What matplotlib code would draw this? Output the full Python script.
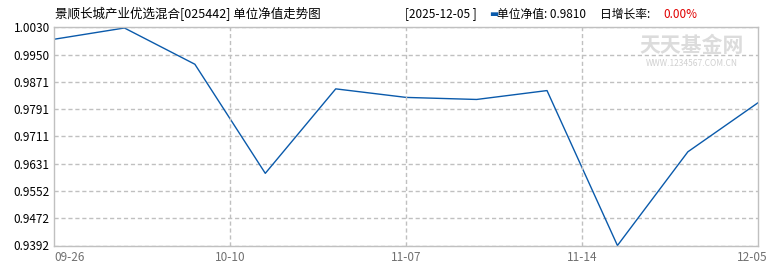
import matplotlib
matplotlib.use("Agg")
import matplotlib.pyplot as plt
import matplotlib.transforms as mtransforms
import numpy as np

plt.rcParams['font.family'] = ['Noto Sans CJK SC', 'DejaVu Sans']

# weekly unit net values, 09-26 .. 12-05
nav = [0.9995, 1.0028, 0.9922, 0.9603, 0.9850, 0.9825, 0.9819, 0.9845, 0.9392, 0.9666, 0.9810]
x_pos = [0, 2.5, 5, 7.5, 10]
x_labels = ['09-26', '10-10', '11-07', '11-14', '12-05']
y_min = 0.9392
y_max = 1.0030
y_labels = ['0.9392', '0.9472', '0.9552', '0.9631', '0.9711', '0.9791', '0.9871', '0.9950', '1.0030']

fig = plt.figure(figsize=(7.7, 2.7), dpi=100)
ax = fig.add_axes([54/770, 24.5/270, 704.3/770, 218.2/270])

x = list(range(len(nav)))
ax.plot(x, nav, color='#0a5aab', linewidth=1.0)

ax.set_xlim(0, len(nav) - 1)
ax.set_ylim(y_min, y_max)
ax.set_yticks(np.linspace(y_min, y_max, len(y_labels)))
ax.set_yticklabels(y_labels)
ax.set_xticks(x_pos)
ax.set_xticklabels(x_labels)

ax.tick_params(axis='y', length=0, pad=3, labelsize=8.5, labelcolor='black')
ax.tick_params(axis='x', length=0, pad=4, labelsize=8.5, labelcolor='#707070')
xl = ax.get_xticklabels()
xl[0].set_ha('left')
xl[-1].set_ha('right')
xl[-1].set_transform(xl[-1].get_transform() + mtransforms.ScaledTranslation(9/100, 0, fig.dpi_scale_trans))

ax.grid(True, axis='y', linestyle=(0, (3, 2)), color='#c0c0c0', linewidth=1)
for xv in x_pos[1:-1]:
    ax.axvline(xv, linestyle=(0, (3, 2)), color='#c0c0c0', linewidth=1)
for s in ax.spines.values():
    s.set_color('#c0c0c0')
    s.set_linewidth(1)

# watermark
fig.text(692/770, 1 - 46/270, '天天基金网', fontsize=15, color='#dcdcdc', ha='center', va='center', fontweight='bold')
fig.text(692/770, 1 - 63/270, 'WWW.1234567.COM.CN', fontsize=6, color='#d0d0d0', ha='center', va='center')

# header
fig.text(55/770, 1 - 14/270, '景顺长城产业优选混合[025442] 单位净值走势图', fontsize=9, color='black', va='center')
fig.text(405/770, 1 - 14/270, '[2025-12-05 ]', fontsize=8.5, color='black', va='center')
fig.text(489/770, 1 - 14/270, '▬', fontsize=7, color='#0a5aab', va='center', family=['DejaVu Sans'])
fig.text(497/770, 1 - 14/270, '单位净值: 0.9810', fontsize=8.5, color='black', va='center')
fig.text(600/770, 1 - 14/270, '日增长率: ', fontsize=8.5, color='black', va='center')
fig.text(663/770, 1 - 14/270, '0.00%', fontsize=8.5, color='#e00000', va='center')

fig.savefig('out.png', dpi=100)
